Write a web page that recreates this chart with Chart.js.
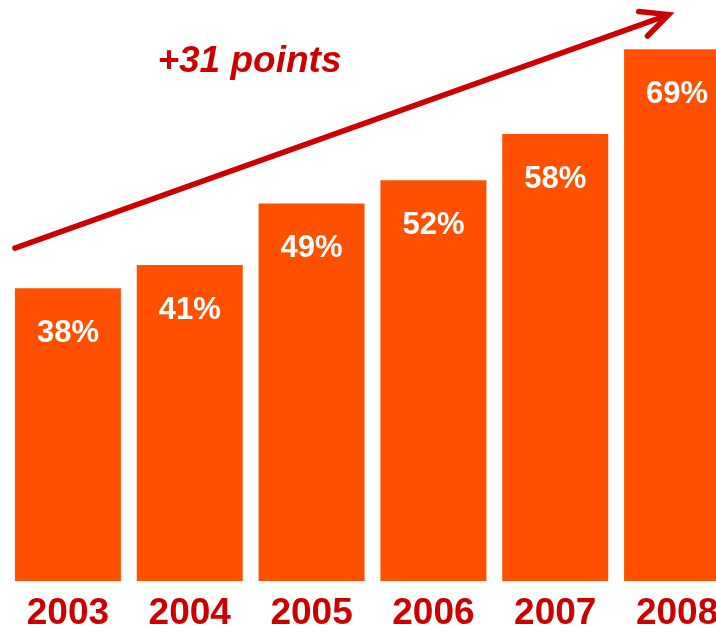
<!DOCTYPE html>
<html>
<head>
<meta charset="utf-8">
<script src="https://cdn.jsdelivr.net/npm/chart.js@4/dist/chart.umd.min.js"></script>
<style>
  html, body { margin: 0; padding: 0; background: #fff; overflow: hidden; }
  #wrap { position: relative; width: 745px; height: 638px; }
</style>
</head>
<body>
<div id="wrap"><canvas id="my_chart"></canvas></div>
<script>
const years = ['2003', '2004', '2005', '2006', '2007', '2008'];
const share = [38, 41, 49, 52, 58, 69];
const value_labels = ['38%', '41%', '49%', '52%', '58%', '69%'];
const trend_label = '+31 points';

const bar_color = '#FF5000';
const dark_red = '#CC0000';
const font_family = '"Liberation Sans", Arial, sans-serif';

// white value labels inside the top of each bar
const value_plugin = {
    id: 'value_plugin',
    afterDatasetsDraw(chart) {
        const ctx = chart.ctx;
        const meta = chart.getDatasetMeta(0);
        ctx.save();
        ctx.fillStyle = '#ffffff';
        ctx.font = 'bold 31px ' + font_family;
        ctx.textAlign = 'center';
        ctx.textBaseline = 'middle';
        meta.data.forEach((bar, i) => {
            ctx.fillText(value_labels[i], bar.x, bar.y + 45);
        });
        ctx.restore();
    }
};

// trend arrow and its caption, placed in data space
const arrow_plugin = {
    id: 'arrow_plugin',
    afterDraw(chart) {
        const ctx = chart.ctx;
        const xs = chart.scales.x;
        const ys = chart.scales.y;
        const at = (idx, v) => [xs.getPixelForValue(idx), ys.getPixelForValue(v)];

        const [x0, y0] = at(-0.435, 43.2);
        const [x1, y1] = at(4.93, 73.5);

        ctx.save();
        ctx.strokeStyle = dark_red;
        ctx.lineWidth = 5.5;
        ctx.lineCap = 'round';
        ctx.lineJoin = 'miter';
        ctx.beginPath();
        ctx.moveTo(x0, y0);
        ctx.lineTo(x1 - 3, y1 + 1.2);
        ctx.stroke();

        const ang = Math.atan2(y1 - y0, x1 - x0);
        const head = 30;
        ctx.beginPath();
        ctx.moveTo(x1 + head * Math.cos(ang + Math.PI - 0.45) , y1 + head * Math.sin(ang + Math.PI - 0.45));
        ctx.lineTo(x1, y1);
        ctx.lineTo(x1 + head * Math.cos(ang + Math.PI + 0.45), y1 + head * Math.sin(ang + Math.PI + 0.45));
        ctx.stroke();

        const [tx, ty] = at(1.49, 67.4);
        ctx.fillStyle = dark_red;
        ctx.font = 'italic bold 37px ' + font_family;
        ctx.textAlign = 'center';
        ctx.textBaseline = 'middle';
        ctx.fillText(trend_label, tx, ty);
        ctx.restore();
    }
};

const canvas = document.getElementById('my_chart');

let chart = new Chart(canvas, {
    type: 'bar',
    data: {
        labels: years,
        datasets: [{
            label: 'share',
            data: share,
            backgroundColor: bar_color,
            borderWidth: 0,
            barPercentage: 0.87,
            categoryPercentage: 1
        }]
    },
    options: {
        responsive: true,
        maintainAspectRatio: false,
        animation: false,
        layout: { padding: { left: 7, right: 7, top: 0, bottom: 0 } },
        plugins: {
            legend: { display: false },
            tooltip: { enabled: false }
        },
        scales: {
            x: {
                grid: { display: false },
                border: { display: false },
                ticks: {
                    color: dark_red,
                    padding: 6,
                    font: { family: font_family, size: 37, weight: 'bold', lineHeight: 1 }
                }
            },
            y: {
                display: false,
                min: 0,
                max: 75.4
            }
        }
    },
    plugins: [value_plugin, arrow_plugin]
});
</script>
</body>
</html>
